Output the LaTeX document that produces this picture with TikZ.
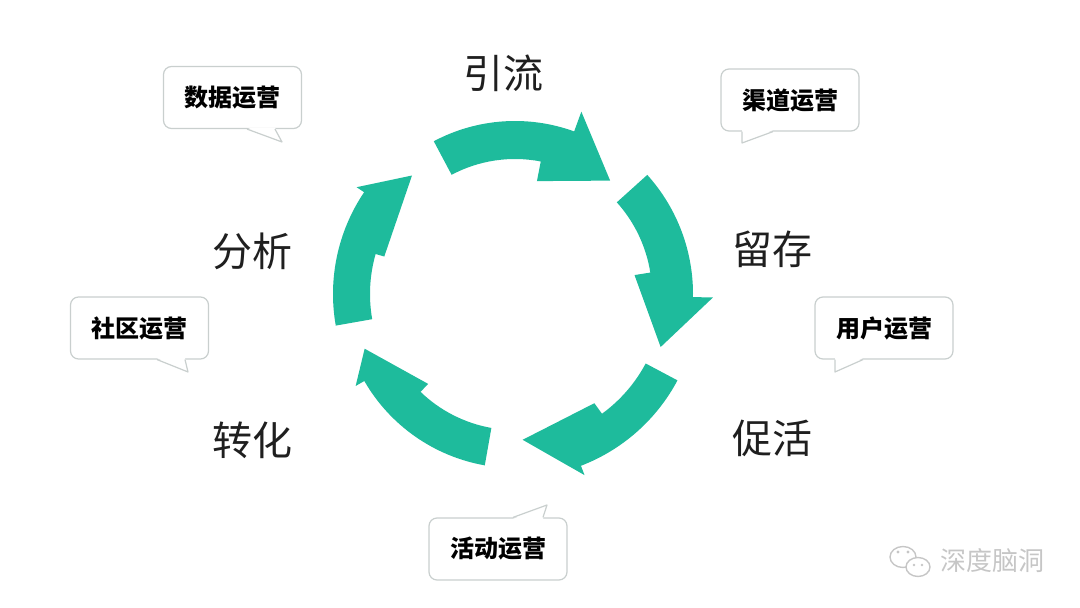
\documentclass[tikz,border=0pt]{standalone}
\usepackage{fontspec}
\newfontfamily\cjk{Noto Sans CJK SC}

\definecolor{cycleteal}{HTML}{1EBB9C}
\definecolor{bubblegray}{HTML}{C9CFCE}
\definecolor{markgray}{HTML}{C6C6C6}

\begin{document}
\begin{tikzpicture}[x = 1pt, y = 1pt,
	stage/.style = {font = \cjk\fontsize{40}{40}\selectfont, text = black!88},
	bubble/.style = {draw = bubblegray, line width = 1.2pt, fill = white, rounded corners = 8pt,
		minimum width = 138pt, minimum height = 62pt, inner sep = 0pt,
		font = \cjk\bfseries\fontsize{24}{24}\selectfont},
	bubbleline/.style = {draw = bubblegray, line width = 1.2pt, line join = round}]

	\useasboundingbox (0, 0) rectangle (1080, 608);

	% Cycle of five curved arrows round the centre
	
	\begin{scope}[shift = {(515, 314)}]
		\foreach \t/\jo/\ji/\c/\ro/\ri/\bo/\bi/\m in {118/70/79/50/173/135/194/115/148,
				42/-1/9/-20/178/137/198/121/155,
				-28/-69/-54/-87/184/148/194/135/146,
				-100/-150/-134/-160/174/136/184/125/160,
				-170/-214/-196/-229/182/145/191/136/157}
			\fill [cycleteal] (\t:\ro) arc [start angle = \t, end angle = \jo, radius = \ro]
				-- (\jo:\bo) -- (\c:\m) -- (\ji:\bi) -- (\ji:\ri)
				arc [start angle = \ji, end angle = \t, radius = \ri] -- cycle;
	\end{scope}

	% Stage labels
	
	\node [stage] (yinliu) at (503, 535) {引流};
	\node [stage] (liucun) at (772, 359) {留存};
	\node [stage] (cuhuo) at (772, 170) {促活};
	\node [stage] (zhuanhua) at (252, 168) {转化};
	\node [stage] (fenxi) at (252, 357) {分析};

	% Speech bubbles with their tails
	
	\node [bubble] (shuju) at (232.5, 510.5) {数据运营};
	\fill [white] ([xshift = 14.5pt, yshift = 1.5pt] shuju.south) -- (282, 466) -- ([xshift = 42.5pt, yshift = 1.5pt] shuju.south) -- cycle;
	\draw [bubbleline] ([xshift = 14.5pt] shuju.south) -- (282, 466) -- ([xshift = 42.5pt] shuju.south);

	\node [bubble] (qudao) at (790, 508) {渠道运营};
	\fill [white] ([xshift = -48pt, yshift = 1.5pt] qudao.south) -- (742, 465) -- ([xshift = -17pt, yshift = 1.5pt] qudao.south) -- cycle;
	\draw [bubbleline] ([xshift = -48pt] qudao.south) -- (742, 465) -- ([xshift = -17pt] qudao.south);

	\node [bubble] (shequ) at (139.5, 280) {社区运营};
	\fill [white] ([xshift = 17.5pt, yshift = 1.5pt] shequ.south) -- (188, 236) -- ([xshift = 45.5pt, yshift = 1.5pt] shequ.south) -- cycle;
	\draw [bubbleline] ([xshift = 17.5pt] shequ.south) -- (188, 236) -- ([xshift = 45.5pt] shequ.south);

	\node [bubble] (yonghu) at (884, 280) {用户运营};
	\fill [white] ([xshift = -49pt, yshift = 1.5pt] yonghu.south) -- (835, 236) -- ([xshift = -21pt, yshift = 1.5pt] yonghu.south) -- cycle;
	\draw [bubbleline] ([xshift = -49pt] yonghu.south) -- (835, 236) -- ([xshift = -21pt] yonghu.south);

	\node [bubble] (huodong) at (498, 59) {活动运营};
	\fill [white] ([xshift = 15pt, yshift = -1.5pt] huodong.north) -- (547, 103) -- ([xshift = 45pt, yshift = -1.5pt] huodong.north) -- cycle;
	\draw [bubbleline] ([xshift = 15pt] huodong.north) -- (547, 103) -- ([xshift = 45pt] huodong.north);

	% Watermark in the corner
	
	\draw [markgray, line width = 1.4pt] (903, 51) ellipse (13 and 10.5);
	\draw [markgray, line width = 1.4pt, fill = white] (918, 41) ellipse (12 and 9.5);
	\fill [markgray] (898, 56) circle (1.6) (908, 56) circle (1.6) (914, 43) circle (1.4) (922, 43) circle (1.4);
	\node [font = \cjk\fontsize{26}{26}\selectfont, text = markgray] (mark) at (992, 47) {深度脑洞};
	
\end{tikzpicture}
\end{document}
